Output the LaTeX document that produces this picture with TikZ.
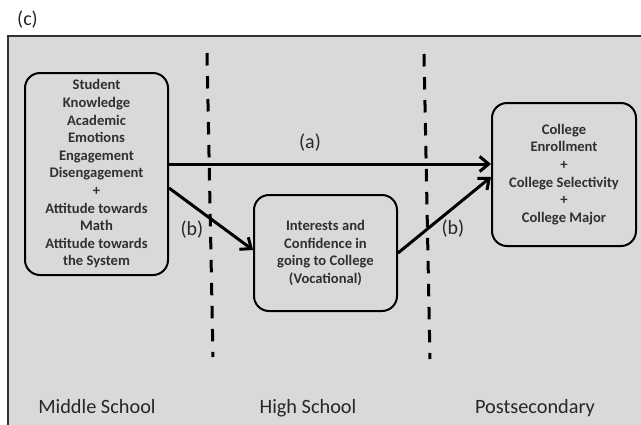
\documentclass[tikz,border=0pt]{standalone}
\usepackage{fontspec}
\setmainfont{Carlito}
\usetikzlibrary{arrows.meta}
\definecolor{bg}{HTML}{D9D9D9}
\definecolor{txt}{HTML}{262626}
\definecolor{boxtxt}{HTML}{303030}
\begin{document}
\begin{tikzpicture}[x=1pt,y=-1pt,
  box/.style={draw=black, line width=2pt, rounded corners=15pt, fill=bg, align=center,
    font=\fontsize{14.6}{17.6}\selectfont\bfseries, text=boxtxt, inner sep=0pt},
  conn/.style={line width=3pt, -{Straight Barb[length=9pt,width=15pt]}},
  divider/.style={line width=3pt, dash pattern=on 12.5pt off 10.5pt},
  lbl/.style={font=\fontsize{20}{24}\selectfont, text=txt, inner sep=0pt},
  stage/.style={font=\fontsize{20.3}{24}\selectfont, text=txt, inner sep=0pt, anchor=base}]
\useasboundingbox (0,0) rectangle (641,424);
\fill[white] (0,0) rectangle (641,424);
\fill[bg] (8,36) rectangle (645,428);
\draw[line width=2pt, draw=black!80] (8,428) -- (8,36) -- (645,36);

\node[lbl] (c) at (27.5,20) {(c)};

% dividers
\draw[divider] (207,53) -- (213,357);
\draw[divider] (424,54) -- (430,359);

% boxes
\node[box, minimum width=143pt, minimum height=202pt] (L) at (96.5,174)
  {Student\\Knowledge\\Academic\\Emotions\\Engagement\\Disengagement\\+\\Attitude towards\\Math\\Attitude towards\\the System};
\node[box, minimum width=143pt, minimum height=116pt] (M) at (325.5,253)
  {Interests and\\Confidence in\\going to College\\(Vocational)};
\node[box, minimum width=144pt, minimum height=143pt] (R) at (564,174.5)
  {College\\Enrollment\\+\\College Selectivity\\+\\College Major};

% connectors
\draw[conn] ([yshift=10pt]L.east) -- ([yshift=10pt]L.east -| R.west);
\draw[conn] ([yshift=-14pt]L.east) -- ([yshift=3pt]M.west);
\draw[conn] (M.east) -- ([yshift=-2.5pt]R.west);

% labels
\node[lbl] (la) at (310,142.5) {(a)};
\node[lbl] (lb1) at (192,230) {(b)};
\node[lbl] (lb2) at (453,229) {(b)};

% stages
\node[stage] (ms) at (97,413) {Middle School};
\node[stage] (hs) at (308,413) {High School};
\node[stage] (ps) at (535,413) {Postsecondary};
\end{tikzpicture}
\end{document}
